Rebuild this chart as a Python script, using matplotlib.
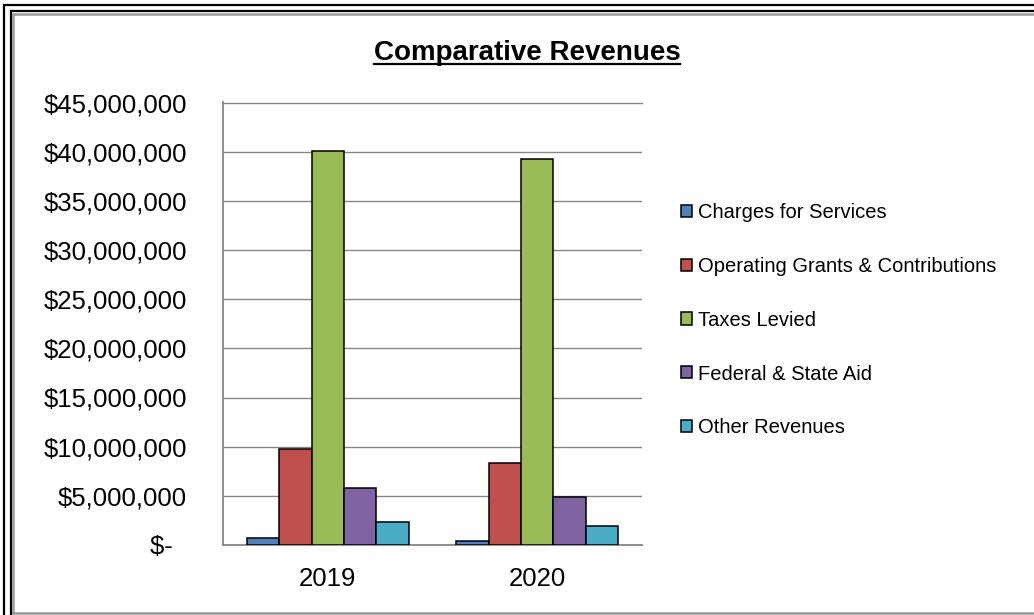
import matplotlib
matplotlib.use("Agg")
import matplotlib.pyplot as plt
from matplotlib.lines import Line2D
from matplotlib.ticker import FuncFormatter
import numpy as np

plt.rcParams['font.family'] = ['Liberation Sans', 'DejaVu Sans']

years = ["2019", "2020"]
series_names = ["Charges for Services", "Operating Grants & Contributions",
                "Taxes Levied", "Federal & State Aid", "Other Revenues"]
charges = [680000, 440000]
op_grants = [9760000, 8300000]
taxes = [40100000, 39260000]
fed_state = [5760000, 4900000]
other = [2370000, 1960000]
series_values = [charges, op_grants, taxes, fed_state, other]
colors = ["#4F81BD", "#C0504D", "#9BBB59", "#8064A2", "#4BACC6"]

W, H = 1034, 615
fig = plt.figure(figsize=(W / 100, H / 100), dpi=100)
fig.patch.set_facecolor("white")

ax = fig.add_axes([223 / W, 1 - 545 / H, (642 - 223) / W, (545 - 102.5) / H])

x = np.arange(len(years))
group = 0.772
bw = group / len(series_names)
bars = []
for i, (name, vals, c) in enumerate(zip(series_names, series_values, colors)):
    offs = -group / 2 + bw * (i + 0.5)
    b = ax.bar(x + offs, vals, width=bw, color=c, edgecolor="black",
               linewidth=1.1, label=name, zorder=3)
    bars.append(b)

ax.set_xlim(-0.5, 1.5)
ax.set_ylim(0, 45000000)
ax.set_yticks(np.arange(0, 45000001, 5000000))
ax.set_xticks(x)
ax.set_xticklabels(years)


def fmt(v, pos):
    if v == 0:
        return "$-  "
    return "${:,.0f}".format(v)


ax.yaxis.set_major_formatter(FuncFormatter(fmt))
ax.tick_params(axis="y", length=0, pad=26, labelsize=18.5)
ax.tick_params(axis="x", length=0, pad=16, labelsize=18.5)
ax.grid(axis="y", color="#878787", linewidth=1.0, zorder=0)
ax.set_axisbelow(True)
ax.spines["right"].set_visible(False)
ax.spines["top"].set_color("#878787")
ax.spines["top"].set_linewidth(1.0)
for s in ["left", "bottom"]:
    ax.spines[s].set_color("#878787")
    ax.spines[s].set_linewidth(1.3)

leg = fig.legend(handles=bars, labels=series_names, loc="upper left",
                 bbox_to_anchor=(681 / W, 1 - 203 / H), frameon=False,
                 fontsize=14.5, handlelength=0.55, handleheight=0.55,
                 handletextpad=0.3, labelspacing=1.73, borderpad=0,
                 borderaxespad=0)

title = fig.text(527 / W, 1 - 60 / H, "Comparative Revenues", ha="center",
                 va="baseline", fontsize=20, fontweight="bold")

fig.canvas.draw()
bb = title.get_window_extent()
uy = (H - 63.5) / H
fig.add_artist(Line2D([bb.x0 / W, bb.x1 / W], [uy, uy], color="black",
                      linewidth=1.6, transform=fig.transFigure))


def hline(ypx, x0px, x1px, color, lw):
    fig.add_artist(Line2D([x0px / W, x1px / W], [1 - ypx / H, 1 - ypx / H],
                          color=color, linewidth=lw, transform=fig.transFigure,
                          solid_capstyle="butt"))


def vline(xpx, y0px, y1px, color, lw):
    fig.add_artist(Line2D([xpx / W, xpx / W], [1 - y0px / H, 1 - y1px / H],
                          color=color, linewidth=lw, transform=fig.transFigure,
                          solid_capstyle="butt"))


# outer double frame (black) and inner gray frame
hline(4.5, 3, W + 5, "black", 1.6)
vline(4, 3.5, H + 5, "black", 1.6)
hline(11, 9.5, W + 5, "black", 1.6)
vline(10.5, 10, H + 5, "black", 1.6)
hline(13.5, 12, W + 5, "#9a9a9a", 1.8)
vline(12.7, 12.5, 613.5, "#9a9a9a", 1.8)
hline(613, 12, W + 5, "#9a9a9a", 1.8)

fig.savefig("out.png", dpi=100)
